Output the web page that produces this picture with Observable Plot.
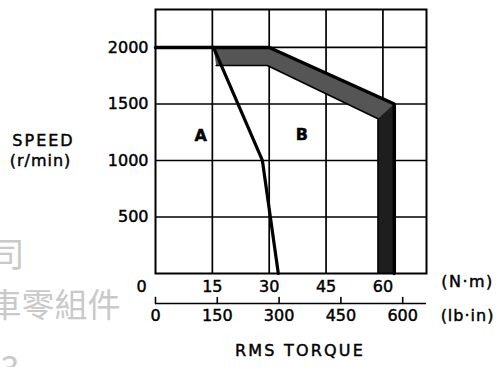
<!DOCTYPE html>
<html>
<head>
<meta charset="utf-8">
<script src="https://cdn.jsdelivr.net/npm/d3@7"></script>
<script src="https://cdn.jsdelivr.net/npm/@observablehq/plot@0.6"></script>
<style>
  html, body { margin: 0; padding: 0; background: #fff; }
  #chart { width: 503px; height: 367px; }
</style>
</head>
<body>
<div id="chart"></div>
<script>
// ---- data ----
const torqueTicksNm = [15, 30, 45, 60];
const torqueTicksLbIn = [0, 150, 300, 450, 600];
const speedTicks = [500, 1000, 1500, 2000];
const lbInPerNm = 9.2; // spacing of the lb·in scale as drawn

// Region A boundary (N·m, r/min)
const lineATorque = [15.3, 28.2, 32.4];
const lineASpeed = [2000, 1000, 0];

// Region B outer boundary
const lineBTorque = [0, 30, 63, 63];
const lineBSpeed = [2000, 2000, 1500, 0];

// Inner edge of the shaded tolerance band
const bandInnerTorque = [58.7, 58.7, 29.5, 16];
const bandInnerSpeed = [0, 1370, 1840, 1840];

// Band polygons (upper/diagonal part and vertical part)
const bandUpperTorque = [15.3, 30, 63, 63, 58.7, 58.7, 29.5, 16];
const bandUpperSpeed = [2000, 2000, 1500, 1370, 1370, 1370, 1840, 1840];
const bandVertTorque = [58.7, 63, 63, 58.7];
const bandVertSpeed = [1370, 1500, 0, 0];

const regionLabels = ["A", "B"];
const regionTorque = [11.9, 38.6];
const regionSpeed = [1215, 1230];

const zip = (xs, ys) => xs.map((x, i) => ({t: x, s: ys[i]}));

const font = "DejaVu Sans, Liberation Sans, sans-serif";
const cjk = "Noto Sans CJK TC, Noto Sans CJK SC, sans-serif";
const vtick = {draw(ctx, l) { ctx.moveTo(0, 0); ctx.lineTo(0, -l); }};
const wm = "#c9c9c9";

const chart = Plot.plot({
  width: 503,
  height: 367,
  marginLeft: 155,
  marginRight: 77,
  marginTop: 9,
  marginBottom: 94,
  style: {fontFamily: font, fontSize: "16px", background: "#fff", color: "#000"},
  x: {domain: [0, 71.5]},
  y: {domain: [0, 2336]},
  marks: [
    // watermark
    Plot.text(["公司"], {frameAnchor: "bottom-left", dx: -131, dy: -7, textAnchor: "end", fontSize: 34, fontFamily: cjk, fill: wm}),
    Plot.text(["車零組件"], {frameAnchor: "bottom-left", dx: -35, dy: 43, textAnchor: "end", fontSize: 33, fontFamily: cjk, fill: wm}),
    Plot.text(["3"], {frameAnchor: "bottom-left", dx: -155, dy: 106, textAnchor: "start", fontSize: 34, fontFamily: cjk, fill: wm}),

    Plot.gridX(torqueTicksNm, {stroke: "#000", strokeOpacity: 1, strokeWidth: 1.7}),
    Plot.gridY(speedTicks, {stroke: "#000", strokeOpacity: 1, strokeWidth: 1.7}),

    Plot.line(zip(bandUpperTorque, bandUpperSpeed), {x: "t", y: "s", fill: "#555", stroke: "none"}),
    Plot.line(zip(bandVertTorque, bandVertSpeed), {x: "t", y: "s", fill: "#1e1e1e", stroke: "none"}),
    Plot.line(zip(bandInnerTorque, bandInnerSpeed), {x: "t", y: "s", stroke: "#000", strokeWidth: 1.6}),
    Plot.line(zip(lineBTorque, lineBSpeed), {x: "t", y: "s", stroke: "#000", strokeWidth: 3.5, strokeLinejoin: "miter"}),
    Plot.line(zip(lineATorque, lineASpeed), {x: "t", y: "s", stroke: "#000", strokeWidth: 3.2, strokeLinejoin: "miter"}),

    Plot.frame({stroke: "#000", strokeWidth: 2}),

    Plot.text(regionLabels, {x: (d, i) => regionTorque[i], y: (d, i) => regionSpeed[i], fontSize: 16, fontWeight: "bold", fill: "#000"}),

    Plot.axisY(speedTicks, {tickSize: 0, tickPadding: 7, label: null, tickFormat: d => String(d), fontSize: 16, fill: "#000"}),
    Plot.axisX(torqueTicksNm, {tickSize: 0, tickPadding: 7, label: null, tickFormat: d => String(d), fontSize: 16, fill: "#000"}),
    Plot.text([0], {x: d => d, y: d => d, dx: -14, dy: 13, fontSize: 16, fill: "#000"}),

    // secondary lb·in scale
    Plot.ruleY([0], {dy: 30, stroke: "#000", strokeWidth: 1.6}),
    Plot.vector(torqueTicksLbIn, {x: d => d / lbInPerNm, frameAnchor: "bottom", dy: 30, length: 6, rotate: 0, anchor: "start", shape: vtick, stroke: "#000", strokeWidth: 1.6}),
    Plot.text(torqueTicksLbIn, {x: d => d / lbInPerNm, frameAnchor: "bottom", dy: 47, text: d => String(d), fontSize: 16, fill: "#000"}),

    Plot.text(["(N·m)"], {frameAnchor: "bottom-right", textAnchor: "middle", dx: 41, dy: 13, fontSize: 16, fill: "#000"}),
    Plot.text(["(lb·in)"], {frameAnchor: "bottom-right", textAnchor: "middle", dx: 41, dy: 47, fontSize: 16, fill: "#000"}),
    Plot.text(["RMS TORQUE"], {frameAnchor: "bottom", textAnchor: "middle", dx: 9, dy: 82, fontSize: 16, fill: "#000"}),
    Plot.text(["SPEED"], {frameAnchor: "left", textAnchor: "middle", dx: -112, dy: -1, fontSize: 16, fill: "#000"}),
    Plot.text(["(r/min)"], {frameAnchor: "left", textAnchor: "middle", dx: -115, dy: 19, fontSize: 16, fill: "#000"})
  ]
});

const spacing = {"SPEED": "2px", "RMS TORQUE": "2.2px", "(r/min)": "1px", "(N·m)": "1.5px", "(lb·in)": "1px"};
const watermark = new Set(["公司", "車零組件", "3"]);
d3.select(chart).selectAll("text").each(function() {
  const t = this.textContent;
  const s = spacing[t];
  if (s) this.setAttribute("letter-spacing", s);
  if (!watermark.has(t)) {
    this.setAttribute("stroke", "#000");
    this.setAttribute("stroke-width", "0.45");
  }
});

document.getElementById("chart").appendChild(chart);
</script>
</body>
</html>
